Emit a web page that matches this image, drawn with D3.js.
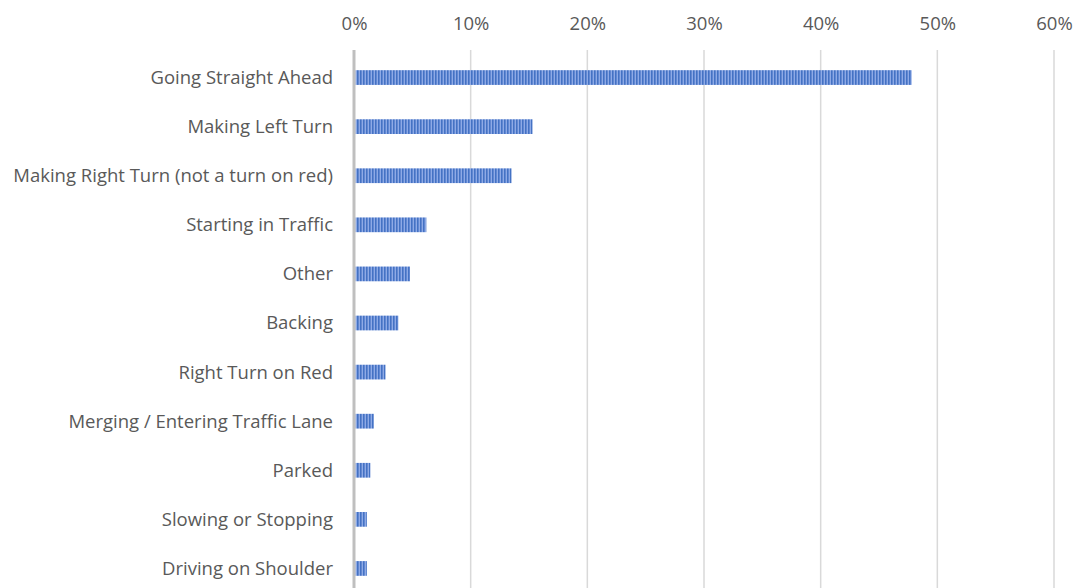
<!DOCTYPE html>
<html>
<head>
<meta charset="utf-8">
<script src="https://cdn.jsdelivr.net/npm/d3@7"></script>
<style>
  body { margin: 0; background: #fff; }
  svg text { font-family: "Open Sans", sans-serif; fill: #595959; }
</style>
</head>
<body>
<div id="chart"></div>
<script>
// categories, top to bottom
const categories = [
    "Going Straight Ahead",
    "Making Left Turn",
    "Making Right Turn (not a turn on red)",
    "Starting in Traffic",
    "Other",
    "Backing",
    "Right Turn on Red",
    "Merging / Entering Traffic Lane",
    "Parked",
    "Slowing or Stopping",
    "Driving on Shoulder"
];
// share of crashes, percent
const shares = [47.8, 15.3, 13.5, 6.2, 4.8, 3.8, 2.7, 1.7, 1.4, 1.1, 1.1];
const ticks = [0, 10, 20, 30, 40, 50, 60];

const width = 1076, height = 588;
const margin = { top: 50, right: 20, bottom: 0, left: 354 };

const svg = d3.select("#chart").append("svg")
    .attr("width", width)
    .attr("height", height);

// striped fill like the original
const defs = svg.append("defs");
const pat = defs.append("pattern")
    .attr("id", "stripes")
    .attr("patternUnits", "userSpaceOnUse")
    .attr("width", 3)
    .attr("height", 10);
pat.append("rect").attr("width", 3).attr("height", 10).attr("fill", "#4472c4");
pat.append("rect").attr("x", 1.6).attr("width", 1.4).attr("height", 10).attr("fill", "#8eaae6");

const x = d3.scaleLinear().domain([0, 60]).range([margin.left, margin.left + 700]);
const y = d3.scaleBand().domain(categories).range([53, 593]).paddingInner(0.7).paddingOuter(0.35);

// gridlines
svg.append("g")
    .selectAll("line")
    .data(ticks.slice(1))
    .join("line")
    .attr("x1", d => x(d)).attr("x2", d => x(d))
    .attr("y1", 50).attr("y2", height)
    .attr("stroke", "#d9d9d9")
    .attr("stroke-width", 1.5);

// top tick labels
const axis = svg.append("g")
    .attr("transform", "translate(0,30)")
    .call(d3.axisTop(x).tickValues(ticks).tickFormat(d => d + "%").tickSize(0).tickPadding(0));
axis.select(".domain").remove();
axis.selectAll("text")
    .style("font-size", "18.5px")
    .style("font-family", "'Open Sans', sans-serif")
    .attr("fill", "#595959");

// bars
svg.append("g")
    .selectAll("rect")
    .data(categories)
    .join("rect")
    .attr("x", x(0) + 1.5)
    .attr("y", d => y(d))
    .attr("width", (d, i) => x(shares[i]) - x(0) - 1.5)
    .attr("height", y.bandwidth())
    .attr("fill", "url(#stripes)");

// category labels
svg.append("g")
    .selectAll("text")
    .data(categories)
    .join("text")
    .attr("x", margin.left - 21)
    .attr("y", d => y(d) + y.bandwidth() / 2)
    .attr("dy", "0.35em")
    .attr("text-anchor", "end")
    .style("font-size", "18.5px")
    .text(d => d);

// vertical axis line at 0
svg.append("line")
    .attr("x1", x(0)).attr("x2", x(0))
    .attr("y1", 50).attr("y2", height)
    .attr("stroke", "#bfbfbf")
    .attr("stroke-width", 3);
</script>
</body>
</html>
